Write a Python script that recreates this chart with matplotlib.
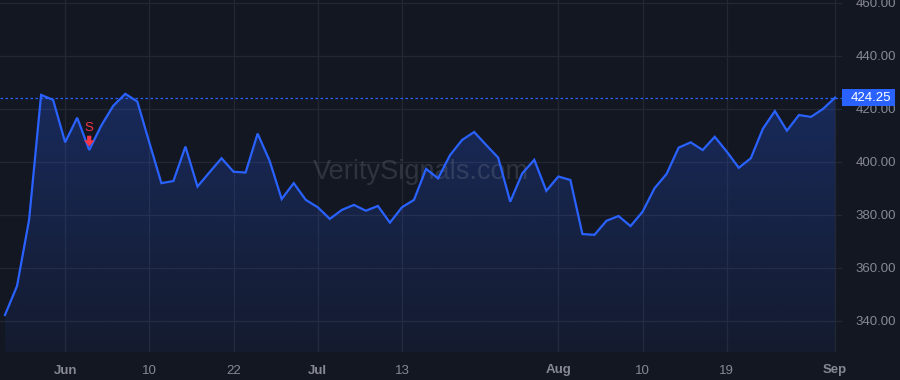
import numpy as np
import matplotlib
matplotlib.use('Agg')
import matplotlib.pyplot as plt
from matplotlib.patches import Polygon, Rectangle
from matplotlib.transforms import blended_transform_factory

# ---- data ----
prices = [342.3, 353.2, 378.1, 425.3, 423.4, 407.4, 416.7, 404.5, 413.7, 421.2,
          425.7, 422.8, 407.3, 392.0, 392.8, 405.8, 390.7, 396.1, 401.4, 396.3,
          396.0, 410.7, 400.4, 386.0, 392.0, 385.7, 382.9, 378.5, 381.9, 383.8,
          381.6, 383.4, 377.1, 382.9, 385.7, 397.4, 393.8, 402.6, 408.3, 411.3,
          406.4, 401.6, 385.0, 395.7, 400.8, 389.1, 394.5, 393.2, 372.8, 372.5,
          377.8, 379.6, 375.8, 381.2, 390.1, 395.5, 405.4, 407.4, 404.5, 409.5,
          403.9, 397.8, 401.4, 412.5, 419.2, 411.8, 417.7, 417.0, 420.0, 424.25]
tick_idx = [5, 12, 19, 26, 33, 46, 53, 60, 69]
tick_labels = ['Jun', '10', '22', 'Jul', '13', 'Aug', '10', '19', 'Sep']
month_labels = {'Jun', 'Jul', 'Aug', 'Sep'}
y_ticks = [340, 360, 380, 400, 420, 440, 460]
last_price = 424.25
signal_idx = 7
signal_label = 'S'
watermark = 'VeritySignals.com'

# ---- style ----
BG = '#131722'
GRID = '#232733'
TXT = '#868993'
LINE = '#2962FF'
RED = '#F23645'

plt.rcParams['font.family'] = ['Liberation Sans', 'DejaVu Sans']

fig = plt.figure(figsize=(9, 3.8), dpi=100, facecolor=BG)
ax = fig.add_axes([0, 28 / 380, 842 / 900, 352 / 380], facecolor=BG)

x = np.arange(len(prices))
y = np.array(prices)
ybot = 328.3
ax.set_xlim(-0.416, 69.58)
ax.set_ylim(ybot, 461.1)

# gradient fill
verts = [(x[0], ybot)] + list(zip(x, y)) + [(x[-1], ybot)]
poly = Polygon(verts, closed=True, facecolor='none', edgecolor='none')
ax.add_patch(poly)
n = 256
grad = np.zeros((n, 1, 4))
rgb = matplotlib.colors.to_rgb(LINE)
grad[:, 0, 0], grad[:, 0, 1], grad[:, 0, 2] = rgb
grad[:, 0, 3] = np.linspace(0.06, 0.26, n)
im = ax.imshow(grad, extent=(x[0], x[-1], ybot, y.max()), origin='lower',
               aspect='auto', zorder=1, interpolation='bilinear')
im.set_clip_path(poly)

ax.plot(x, y, color=LINE, lw=1.6, zorder=3, solid_joinstyle='miter')

# last price line and label
ax.axhline(last_price, color=LINE, lw=0.9, ls=(0, (2, 2)), zorder=2)
tr = blended_transform_factory(ax.transAxes, ax.transData)
ax.add_patch(Rectangle((1.0, last_price - 3.2), 53 / 842, 6.4, transform=tr,
                       fc=LINE, ec='none', clip_on=False, zorder=9))
ax.text(851 / 842, last_price, f'{last_price:.2f}', transform=tr, ha='left', va='center',
        color='white', fontsize=9.5, zorder=10, clip_on=False)

# signal marker
sv = y[signal_idx]
ax.text(signal_idx, sv + 8.3, signal_label, color=RED, fontsize=9.5,
        ha='center', va='center', zorder=5)
ax.annotate('', xy=(signal_idx, sv + 1.3), xytext=(signal_idx, sv + 5.4),
            arrowprops=dict(arrowstyle='simple,head_length=0.45,head_width=0.75,tail_width=0.3',
                            color=RED, lw=0, shrinkA=0, shrinkB=0, mutation_scale=10),
            zorder=5)

# watermark
ax.text(421 / 842, 1 - 172 / 352, watermark, transform=ax.transAxes, ha='center',
        va='center', fontsize=19.5, color='#9598a1', alpha=0.22, zorder=2)

# axes / ticks
ax.set_xticks(tick_idx)
ax.set_xticklabels(tick_labels)
for lab in ax.get_xticklabels():
    if lab.get_text() in month_labels:
        lab.set_fontweight('bold')
ax.set_yticks(y_ticks)
ax.set_yticklabels([f'{v:.2f}' for v in y_ticks])
ax.yaxis.tick_right()
ax.tick_params(axis='both', length=0, colors=TXT, labelsize=9.5)
ax.tick_params(axis='y', pad=10)
ax.tick_params(axis='x', pad=9)
ax.grid(True, color=GRID, lw=0.9, zorder=0)
ax.set_axisbelow(True)
for s in ax.spines.values():
    s.set_visible(False)

fig.savefig('out.png', dpi=100, facecolor=BG)
